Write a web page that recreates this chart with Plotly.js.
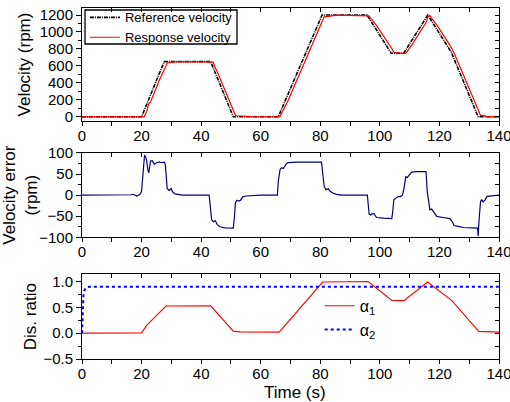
<!DOCTYPE html>
<html><head><meta charset="utf-8">
<script src="https://cdn.plot.ly/plotly-3.0.1.min.js"></script>
<style>html,body{margin:0;padding:0;background:#fff}#chart{width:510px;height:402px}</style>
</head><body><div id="chart"></div>
<script>
// ---- data ----
const refTime = [0, 20, 27.6, 43.2, 50.8, 65.9, 80.6, 95.7, 103.8, 108, 116.1, 124, 133, 140];
const refVel  = [0, 0, 650, 650, 0, 0, 1200, 1200, 750, 750, 1200, 760, 0, 0];

const respTime = [0, 20.9, 21.7, 22.4, 23.0, 24.3, 26.0, 28.2, 28.6, 29.5, 31.0, 33.5, 44.0, 44.8, 45.4, 50.8, 51.5, 52.0, 54.0, 57.0, 66.4, 68.1, 69.2, 80.4, 80.8, 81.3, 82.7, 85.5, 96.3, 98.9, 104.0, 104.7, 106.2, 108.1, 108.7, 110.7, 115.5, 116.1, 116.8, 117.4, 119.1, 123.5, 124.3, 124.9, 127.0, 132.8, 133.8, 134.7, 136.0, 140];
const respVel  = [0, 0, 63, 152, 175, 295, 434, 601, 634, 639, 647, 650, 644, 574, 532, 78, 18, 12, 4, 1, 0, 111, 192, 1105, 1143, 1179, 1185, 1198, 1190, 1075, 805, 761, 753, 745, 748, 845, 1111, 1175, 1196, 1161, 1084, 846, 797, 756, 582, 95, 15, 16, 3, 0];

const errTime = [0, 15, 16.5, 17.2, 18.0, 18.4, 19.2, 19.6, 20.0, 20.5, 21.0, 21.4, 21.7, 22.1, 22.4, 22.7, 23.0, 23.6, 24.0, 24.3, 25.0, 26.0, 26.7, 27.7, 28.0, 28.2, 28.6, 29.3, 29.9, 30.4, 31.2, 32.3, 33.5, 42.7, 43.0, 43.5, 44.1, 44.8, 45.4, 46.3, 48.0, 50.8, 51.2, 51.5, 52.0, 52.6, 53.2, 54.0, 55.0, 57.0, 60.0, 65.6, 65.9, 66.5, 67.0, 67.6, 68.1, 68.7, 69.2, 70.3, 72.0, 80.4, 80.8, 81.3, 81.9, 82.7, 83.3, 84.2, 85.5, 87.2, 95.8, 96.4, 96.9, 97.5, 98.0, 98.9, 101.2, 104.0, 104.3, 104.7, 105.4, 106.2, 106.8, 107.6, 108.1, 108.7, 109.2, 109.9, 110.7, 112.4, 115.5, 115.9, 116.4, 116.8, 117.4, 117.9, 119.1, 121.3, 123.5, 124.3, 124.9, 126.3, 128.0, 132.8, 133.0, 133.3, 133.8, 134.2, 134.7, 135.3, 136.0, 137.5, 140];
const errVal  = [0, 0, 1, 2, 0, -2, 1, 3, 9, 55, 95, 90, 82, 62, 53, 66, 81, 82, 76, 73, 77, 79, 77, 78, 70, 49, 16, 11, 16, 8, 3, 2, 0, 0, -22, -58, -63, -61, -70, -75, -77.5, -78, -50, -18, -12, -14, -12, -4, -2, -1, 0, 0, 33, 61, 65, 63, 69, 75, 77, 77.7, 78.5, 78.5, 57, 21, 13, 15, 9, 5, 2, 0, 0, -45, -47, -44, -44, -53, -54.5, -55.5, -40, -11, -7, -3, -4, 0, 16, 44, 42, 47, 54.5, 56, 56, 9, -20, -35, -33, -39, -50.5, -53, -55.5, -62.5, -72, -74, -76.7, -78, -97, -60, -15, -11, -16, -11, -3, -1.5, 0];

const alpha1Time = [0, 20.0, 21.7, 28.2, 43.2, 50.8, 53, 66.2, 80.8, 96.1, 104.0, 108.1, 116.0, 124.1, 133.2, 140];
const alpha1Val  = [0, 0.005, 0.15, 0.525, 0.53, 0.04, 0.025, 0.02, 0.99, 1.0, 0.635, 0.63, 0.99, 0.635, 0.035, 0.02];

const alpha2Time = [0, 0.1, 0.3, 0.5, 0.8, 1.2, 1.8, 2.5, 140];
const alpha2Val  = [0, 0.3, 0.6, 0.75, 0.83, 0.87, 0.89, 0.9, 0.9];

const xTicks = [0, 20, 40, 60, 80, 100, 120, 140];

// ---- traces ----
const traces = [
  {x: refTime, y: refVel, xaxis: 'x', yaxis: 'y', mode: 'lines', name: 'Reference velocity',
   line: {color: '#000000', width: 1.6, dash: '4px,1px,1px,1px'}, legend: 'legend'},
  {x: respTime, y: respVel, xaxis: 'x', yaxis: 'y', mode: 'lines', name: 'Response velocity',
   line: {color: '#ff0000', width: 1.2}, legend: 'legend'},
  {x: errTime, y: errVal, xaxis: 'x2', yaxis: 'y2', mode: 'lines', name: 'error', showlegend: false,
   line: {color: '#000080', width: 1.2}},
  {x: alpha1Time, y: alpha1Val, xaxis: 'x3', yaxis: 'y3', mode: 'lines', name: 'α<sub>1</sub>',
   line: {color: '#ff0000', width: 1.1}, legend: 'legend2'},
  {x: alpha2Time, y: alpha2Val, xaxis: 'x3', yaxis: 'y3', mode: 'lines', name: 'α<sub>2</sub>',
   line: {color: '#0000ff', width: 2, dash: 'dot'}, legend: 'legend2'},
  // empty carriers for the mirrored (inside) tick axes
  {x: [], y: [], xaxis: 'x4', yaxis: 'y4', showlegend: false, hoverinfo: 'skip'},
  {x: [], y: [], xaxis: 'x5', yaxis: 'y5', showlegend: false, hoverinfo: 'skip'},
  {x: [], y: [], xaxis: 'x6', yaxis: 'y6', showlegend: false, hoverinfo: 'skip'}
];

const FONT = '"Liberation Sans", Arial, sans-serif';
const tickFont = {family: FONT, size: 15, color: '#000'};

function xMain(anchor) {
  return {anchor: anchor, range: [0, 140], tickvals: xTicks, ticks: 'outside', ticklen: 4, tickwidth: 1,
    tickcolor: '#000', showline: true, linecolor: '#000', linewidth: 1, mirror: true,
    showgrid: false, zeroline: false, tickfont: tickFont, fixedrange: true, ticklabeloverflow: 'allow',
    ticklabelstandoff: -3,
    minor: {dtick: 10, tick0: 0, ticks: 'outside', ticklen: 4, tickcolor: '#000', showgrid: false}};
}
function yMain(anchor, domain, range, dtick, minorD, fmt, title, standoff) {
  return {anchor: anchor, domain: domain, range: range, dtick: dtick, tick0: 0, tickformat: fmt,
    ticks: 'outside', ticklen: 5, tickcolor: '#000', showline: true, linecolor: '#000', linewidth: 1, mirror: true,
    showgrid: false, zeroline: false, tickfont: tickFont, fixedrange: true,
    minor: {dtick: minorD, tick0: 0, ticks: 'outside', ticklen: 3, tickcolor: '#000', showgrid: false},
    title: {text: title, font: {family: FONT, size: 17, color: '#000'}, standoff: standoff}};
}
function xMirror(over, anchor) {
  return {overlaying: over, anchor: anchor, side: 'top', range: [0, 140], dtick: 10, tick0: 0,
    ticks: 'inside', ticklen: 4, tickcolor: '#000', showticklabels: false, showline: false,
    showgrid: false, zeroline: false, fixedrange: true};
}
function yMirror(over, anchor, range, dtick) {
  return {overlaying: over, anchor: anchor, side: 'right', range: range, dtick: dtick, tick0: 0,
    ticks: 'inside', ticklen: 4, tickcolor: '#000', showticklabels: false, showline: false,
    showgrid: false, zeroline: false, fixedrange: true};
}

const r1 = [-50, 1283], r2 = [-100, 100], r3 = [-0.5, 1.14];
const layout = {
  width: 510, height: 402,
  margin: {l: 82, r: 11, t: 8, b: 43, autoexpand: false},
  paper_bgcolor: '#fff', plot_bgcolor: '#fff',
  font: {family: FONT, color: '#000'},
  xaxis: xMain('y'), xaxis2: xMain('y2'), xaxis3: xMain('y3'),
  yaxis: yMain('x', [0.678, 1], r1, 200, 100, 'd', 'Velocity (rpm)', 4),
  yaxis2: yMain('x2', [0.3467, 0.5869], r2, 50, 25, 'd', 'Velocity error<br>(rpm)', 4),
  yaxis3: yMain('x3', [0, 0.2413], r3, 0.5, 0.25, '.1f', 'Dis. ratio', 2),
  xaxis4: xMirror('x', 'y4'), yaxis4: yMirror('y', 'x4', r1, 100),
  xaxis5: xMirror('x2', 'y5'), yaxis5: yMirror('y2', 'x5', r2, 25),
  xaxis6: xMirror('x3', 'y6'), yaxis6: yMirror('y3', 'x6', r3, 0.25),
  annotations: [
    {text: 'Time (s)', xref: 'paper', yref: 'paper', x: 0.51, y: -0.095, xanchor: 'center', yanchor: 'middle',
     showarrow: false, font: {family: FONT, size: 17, color: '#000'}}
  ],
  shapes: [
    {type: 'rect', xref: 'paper', yref: 'paper', x0: 0.0072, x1: 0.3717, y0: 0.8974, y1: 0.9943,
     line: {color: '#000', width: 1.3}, fillcolor: 'rgba(0,0,0,0)', layer: 'above'}
  ],
  legend: {x: 0.007, y: 1.016, xanchor: 'left', yanchor: 'top', bgcolor: 'rgba(0,0,0,0)',
    borderwidth: 0, font: {family: FONT, size: 13, color: '#000'},
    tracegroupgap: 0, itemwidth: 30},
  legend2: {x: 0.57, y: 0.2, xanchor: 'left', yanchor: 'top', bgcolor: 'rgba(0,0,0,0)',
    borderwidth: 0, font: {family: FONT, size: 16, color: '#000'}, tracegroupgap: 0, itemwidth: 30},
  showlegend: true
};

Plotly.newPlot('chart', traces, layout, {staticPlot: true, displayModeBar: false});
</script>
</body></html>
